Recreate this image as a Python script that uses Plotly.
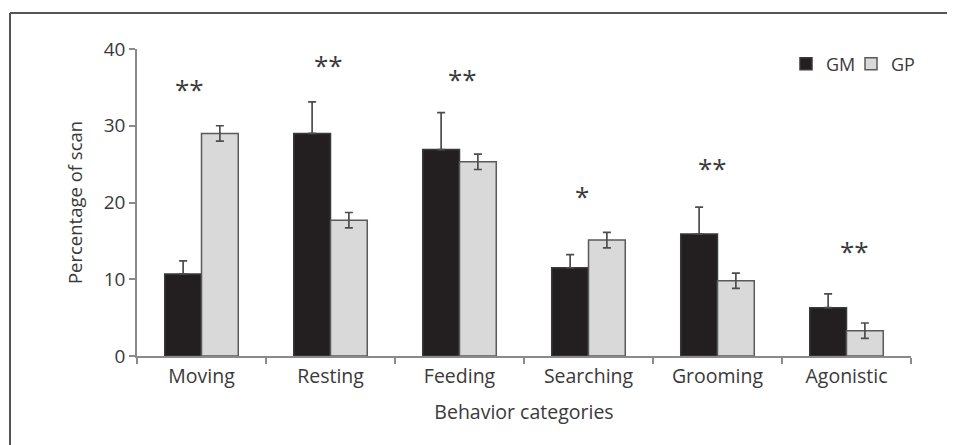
import plotly.graph_objects as go

categories = ["Moving", "Resting", "Feeding", "Searching", "Grooming", "Agonistic"]
gm_values = [10.7, 29.0, 26.9, 11.5, 15.9, 6.3]
gm_errors = [1.7, 4.1, 4.8, 1.7, 3.5, 1.8]
gp_values = [29.0, 17.7, 25.3, 15.1, 9.8, 3.3]
gp_errors = [1.0, 1.0, 1.0, 1.0, 1.0, 1.0]
significance = ["**", "**", "**", "*", "**", "**"]
y_ticks = [0, 10, 20, 30, 40]

FONT = "Open Sans"
TXT = "#3a3a3a"

# plot area in figure pixels (page body adds 8px offset)
L, R, T, B = 129, 903, 41, 348
W, H = 955, 445
PW, PH = R - L, B - T

fig = go.Figure()
fig.add_trace(go.Bar(
    name="GM", x=categories, y=gm_values,
    marker=dict(color="#231f20", line=dict(color="#3a3a3a", width=1.5)),
    error_y=dict(type="data", symmetric=False, array=gm_errors,
                 arrayminus=[0] * len(gm_errors),
                 color="#4d4d4d", thickness=1.7, width=4),
))
fig.add_trace(go.Bar(
    name="GP", x=categories, y=gp_values,
    marker=dict(color="#d9d9d9", line=dict(color="#5a5a5a", width=1.5)),
    error_y=dict(type="data", array=gp_errors,
                 color="#4d4d4d", thickness=1.7, width=4),
))

# small pixel nudges for the significance marks (as placed in the original)
star_nudge = [(-12, 1), (-2, 1), (3, -2), (-7, 1), (-5, 3), (8, 7)]
for cat, s, a, ea, b, eb, (dx, dy) in zip(categories, significance, gm_values, gm_errors,
                                          gp_values, gp_errors, star_nudge):
    top = max(a + ea, b + eb)
    fig.add_annotation(x=cat, y=top + 5.2, text=s, showarrow=False,
                       yanchor="middle", yshift=-4 + dy, xshift=dx,
                       font=dict(family=FONT, size=26, color=TXT))

# frame around the figure (only top and left edges are within view)
fig.add_shape(type="line", xref="paper", yref="paper",
              x0=(2 - L) / PW, x1=(W + 20 - L) / PW, y0=(B - 5) / PH, y1=(B - 5) / PH,
              line=dict(color="#555555", width=2))
fig.add_shape(type="line", xref="paper", yref="paper",
              x0=(2 - L) / PW, x1=(2 - L) / PW, y0=(B - H - 20) / PH, y1=(B - 5) / PH,
              line=dict(color="#555555", width=2))

fig.update_layout(
    width=W, height=H,
    margin=dict(l=L, r=W - R, t=T, b=H - B),
    paper_bgcolor="white", plot_bgcolor="white",
    barmode="group", bargap=0.43, bargroupgap=0,
    font=dict(family=FONT, color=TXT),
    showlegend=True,
    legend=dict(orientation="h", x=(778 - L) / PW, xanchor="left",
                y=(B - 56) / PH, yanchor="middle",
                font=dict(family=FONT, size=18, color=TXT),
                itemwidth=30, entrywidth=20, entrywidthmode="pixels",
                bgcolor="rgba(0,0,0,0)", traceorder="normal"),
    xaxis=dict(
        title=dict(text="Behavior categories", font=dict(size=19.5, color=TXT), standoff=17),
        showline=True, linecolor="#8a8a8a", linewidth=1.5,
        ticks="outside", tickson="boundaries", ticklen=6, tickcolor="#8a8a8a", tickwidth=1.5,
        tickfont=dict(size=19.5, color=TXT), showgrid=False, ticklabelstandoff=2,
    ),
    yaxis=dict(
        title=dict(text="Percentage of scan", font=dict(size=18.5, color=TXT), standoff=16),
        range=[0, 40], tickvals=y_ticks, showline=True, linecolor="#8a8a8a", linewidth=1.5,
        ticks="outside", ticklen=6, tickcolor="#8a8a8a", tickwidth=1.5,
        tickfont=dict(size=19, color=TXT), showgrid=False, zeroline=False,
    ),
)

fig.write_html("out.html")
